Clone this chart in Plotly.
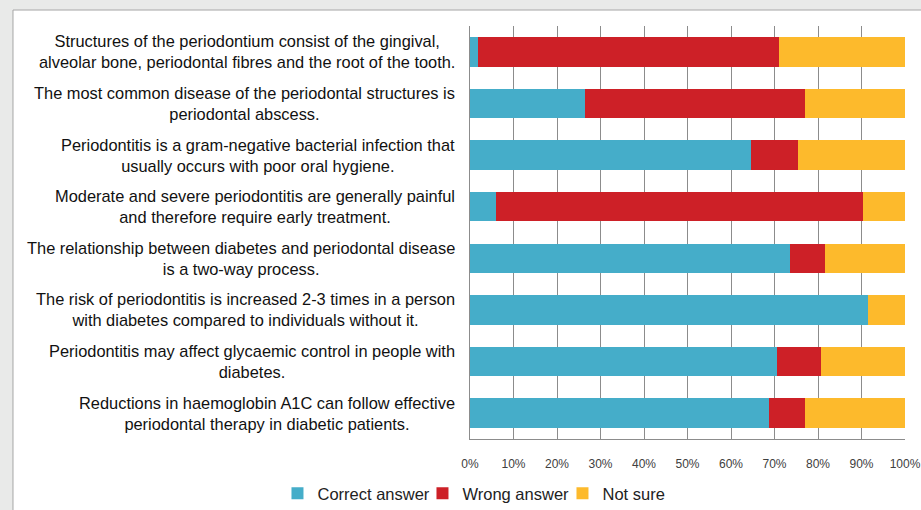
import plotly.graph_objects as go

statements = [
    "Structures of the periodontium consist of the gingival,<br>alveolar bone, periodontal fibres and the root of the tooth.",
    "The most common disease of the periodontal structures is<br>periodontal abscess.",
    "Periodontitis is a gram-negative bacterial infection that<br>usually occurs with poor oral hygiene.",
    "Moderate and severe periodontitis are generally painful<br>and therefore require early treatment.",
    "The relationship between diabetes and periodontal disease<br>is a two-way process.",
    "The risk of periodontitis is increased 2-3 times in a person<br>with diabetes compared to individuals without it.",
    "Periodontitis may affect glycaemic control in people with<br>diabetes.",
    "Reductions in haemoglobin A1C can follow effective<br>periodontal therapy in diabetic patients.",
]
categories = [f"S{i+1}" for i in range(len(statements))]

correct = [1.8, 26.4, 64.7, 6.0, 73.5, 91.4, 70.6, 68.8]
wrong = [69.3, 50.5, 10.6, 84.4, 8.1, 0.0, 10.2, 8.1]
not_sure = [28.9, 23.1, 24.7, 9.6, 18.4, 8.6, 19.2, 23.1]

tick_vals = [0, 10, 20, 30, 40, 50, 60, 70, 80, 90, 100]
tick_text = ["0%", "10%", "20%", "30%", "40%", "50%", "60%", "70%", "80%", "90%", "100%"]

series = [
    ("Correct answer", correct, "#45ADC9", 100),
    ("Wrong answer", wrong, "#CD2027", 95),
    ("Not sure", not_sure, "#FDBA2C", 62),
]

FONT = "Liberation Sans, Arial, sans-serif"

fig = go.Figure()
for name, vals, col, lw in series:
    fig.add_trace(go.Bar(
        y=categories, x=vals, name=name, orientation="h",
        marker=dict(color=col, line=dict(width=0)),
        legendwidth=lw,
    ))

for cat, txt in zip(categories, statements):
    fig.add_annotation(
        x=0, xref="paper", y=cat, yref="y",
        text=txt, showarrow=False, xanchor="right", yanchor="middle",
        align="center", xshift=-13,
        font=dict(family=FONT, size=16.4, color="#111111"),
    )

# white chart box on grey page
fig.add_shape(type="rect", xref="paper", yref="paper",
              x0=-1.0506, x1=1.1, y0=-0.2, y1=1.0387,
              fillcolor="white", line=dict(color="#A6A6A6", width=1), layer="below")

fig.update_layout(
    barmode="stack",
    bargap=0.43,
    width=921, height=510,
    margin=dict(l=470, r=16, t=26, b=71, autoexpand=False),
    paper_bgcolor="#E9EAE9",
    plot_bgcolor="white",
    font=dict(family=FONT, color="#222222"),
    showlegend=True,
    legend=dict(
        orientation="h", x=0.008, xanchor="center", y=-0.132, yanchor="middle",
        font=dict(size=16.5, color="#222222"), bgcolor="rgba(0,0,0,0)",
        traceorder="normal", itemwidth=30,
    ),
    xaxis=dict(
        range=[0, 100], tickvals=tick_vals, ticktext=tick_text,
        showgrid=True, gridcolor="#8C8C8C", gridwidth=1,
        showline=True, linecolor="#8C8C8C", linewidth=1,
        zeroline=False, ticks="", ticklabelstandoff=14,
        tickfont=dict(size=12, color="#404040"),
        fixedrange=True, automargin=False,
    ),
    yaxis=dict(
        autorange="reversed", showticklabels=False,
        showline=True, linecolor="#8C8C8C", linewidth=1,
        showgrid=False, ticks="", fixedrange=True, automargin=False,
    ),
)

fig.write_html("out.html", config={"displayModeBar": False},
               post_script="document.body.style.margin='0px';")
